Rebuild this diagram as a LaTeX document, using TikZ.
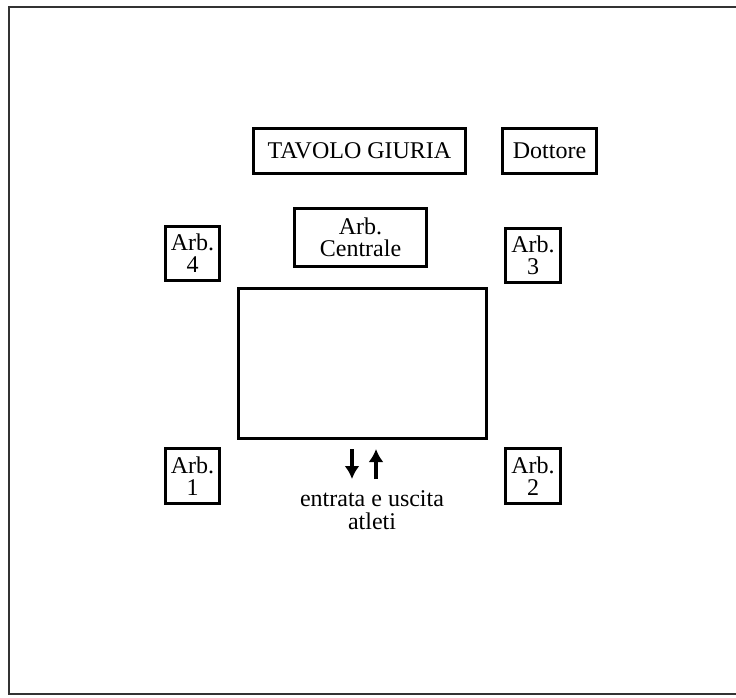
\documentclass[tikz,border=0pt]{standalone}
\usepackage{fontspec}
\setmainfont{Liberation Serif}
\usetikzlibrary{arrows.meta}
\begin{document}
\begin{tikzpicture}[x=1pt,y=-1pt]
\tikzset{boite/.style={draw, line width=3pt, inner sep=0pt, align=center, font=\fontsize{24}{22}\selectfont}}
\tikzset{fleche/.style={line width=4pt, -{Latex[length=13pt,width=15pt]}}}
\useasboundingbox (0,0) rectangle (736,698);
\clip (0,0) rectangle (736,698);
\draw[line width=2pt, black!80] (760,7) -- (9,7) -- (9,694) -- (760,694);
\node[boite, minimum width=212pt, minimum height=45pt] (giuria) at (359.5,151) {TAVOLO GIURIA};
\node[boite, minimum width=94pt, minimum height=45pt] (dottore) at (549.5,151) {Dottore};
\node[boite, minimum width=132pt, minimum height=58pt] (centrale) at (360.5,237.5) {Arb.\\Centrale};
\node[boite, minimum width=54pt, minimum height=54pt] (arb4) at (192.5,253.5) {Arb.\\4};
\node[boite, minimum width=55pt, minimum height=54pt] (arb3) at (533,255.5) {Arb.\\3};
\node[boite, minimum width=54pt, minimum height=55pt] (arb1) at (192.5,476) {Arb.\\1};
\node[boite, minimum width=55pt, minimum height=55pt] (arb2) at (533,476) {Arb.\\2};
\node[draw, line width=3pt, minimum width=248pt, minimum height=150pt] (tappeto) at (362.5,363.5) {};
\coordinate (entra1) at (352,449);
\coordinate (entra2) at (352,479);
\coordinate (esce1) at (376,479);
\coordinate (esce2) at (376,449);
\draw[fleche] (entra1) -- (entra2);
\draw[fleche] (esce1) -- (esce2);
\node[align=center, inner sep=0pt, font=\fontsize{24}{23}\selectfont] (atleti) at (372,510) {entrata e uscita\\atleti};
\end{tikzpicture}
\end{document}
